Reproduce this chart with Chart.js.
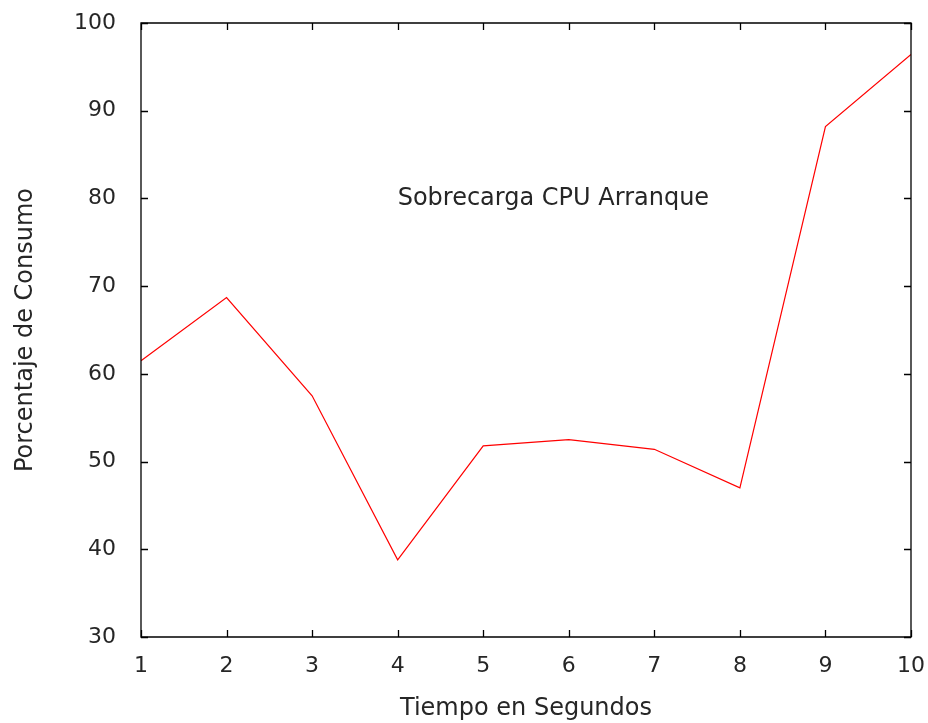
<!DOCTYPE html>
<html>
<head>
<meta charset="utf-8">
<script src="https://cdn.jsdelivr.net/npm/chart.js@4.4.1/dist/chart.umd.min.js"></script>
<style>
  html, body { margin: 0; padding: 0; background: #fff; }
  #wrap { width: 928px; height: 723px; position: relative; }
</style>
</head>
<body>
<div id="wrap"><canvas id="c"></canvas></div>
<script>
// Seconds since boot and CPU usage percentage
const segundos = [1, 2, 3, 4, 5, 6, 7, 8, 9, 10];
const consumo = [61.5, 68.7, 57.5, 38.8, 51.8, 52.5, 51.4, 47.0, 88.2, 96.4];
const yTicks = [30, 40, 50, 60, 70, 80, 90, 100];
const etiqueta = { text: 'Sobrecarga CPU Arranque', x: 4, y: 80 };

const FONT = '"DejaVu Sans", sans-serif';
const TEXT = '#262626';

// Frame with inward ticks on all four sides
const framePlugin = {
  id: 'frame',
  afterDatasetsDraw(chart) {
    const { ctx, chartArea: a, scales } = chart;
    const xs = scales.x, ys = scales.y;
    ctx.save();
    ctx.strokeStyle = '#000';
    ctx.lineWidth = 1.3;
    ctx.beginPath();
    ctx.rect(a.left, a.top, a.right - a.left, a.bottom - a.top);
    ctx.stroke();
    const t = 7;
    ctx.beginPath();
    segundos.forEach(v => {
      const px = Math.round(xs.getPixelForValue(v)) + 0.5;
      ctx.moveTo(px, a.bottom); ctx.lineTo(px, a.bottom - t);
      ctx.moveTo(px, a.top); ctx.lineTo(px, a.top + t);
    });
    yTicks.forEach(v => {
      const py = Math.round(ys.getPixelForValue(v)) + 0.5;
      ctx.moveTo(a.left, py); ctx.lineTo(a.left + t, py);
      ctx.moveTo(a.right, py); ctx.lineTo(a.right - t, py);
    });
    ctx.stroke();
    // in-plot label
    ctx.fillStyle = TEXT;
    ctx.font = '24px ' + FONT;
    ctx.textAlign = 'left';
    ctx.textBaseline = 'middle';
    ctx.fillText(etiqueta.text, xs.getPixelForValue(etiqueta.x), ys.getPixelForValue(etiqueta.y));
    ctx.restore();
  }
};

new Chart(document.getElementById('c'), {
  type: 'line',
  data: {
    labels: segundos,
    datasets: [{
      data: segundos.map((s, i) => ({ x: s, y: consumo[i] })),
      borderColor: '#ff0000',
      borderWidth: 1.2,
      pointRadius: 0,
      tension: 0,
      fill: false
    }]
  },
  options: {
    responsive: true,
    maintainAspectRatio: false,
    animation: false,
    layout: { padding: { top: 23, right: 17, left: 0, bottom: 0 } },
    plugins: { legend: { display: false }, tooltip: { enabled: false } },
    scales: {
      x: {
        type: 'linear',
        min: 1, max: 10,
        afterBuildTicks(s) { s.ticks = segundos.map(v => ({ value: v })); },
        afterFit(s) { s.height = 86; s.paddingLeft = 0; s.paddingRight = 0; },
        grid: { display: false, drawTicks: false },
        border: { display: false },
        ticks: { color: TEXT, font: { family: FONT, size: 22 }, padding: 16, maxRotation: 0 },
        title: { display: true, text: 'Tiempo en Segundos', color: TEXT, font: { family: FONT, size: 24 }, padding: { top: 8, bottom: 0 } }
      },
      y: {
        type: 'linear',
        min: 30, max: 100,
        afterBuildTicks(s) { s.ticks = yTicks.map(v => ({ value: v })); },
        afterFit(s) { s.width = 141; s.paddingTop = 0; s.paddingBottom = 0; },
        grid: { display: false, drawTicks: false },
        border: { display: false },
        ticks: { color: TEXT, font: { family: FONT, size: 22 }, padding: 25 },
        title: { display: true, text: 'Porcentaje de Consumo', color: TEXT, font: { family: FONT, size: 24 }, padding: { top: 11, bottom: 0 } }
      }
    }
  },
  plugins: [framePlugin]
});
</script>
</body>
</html>
